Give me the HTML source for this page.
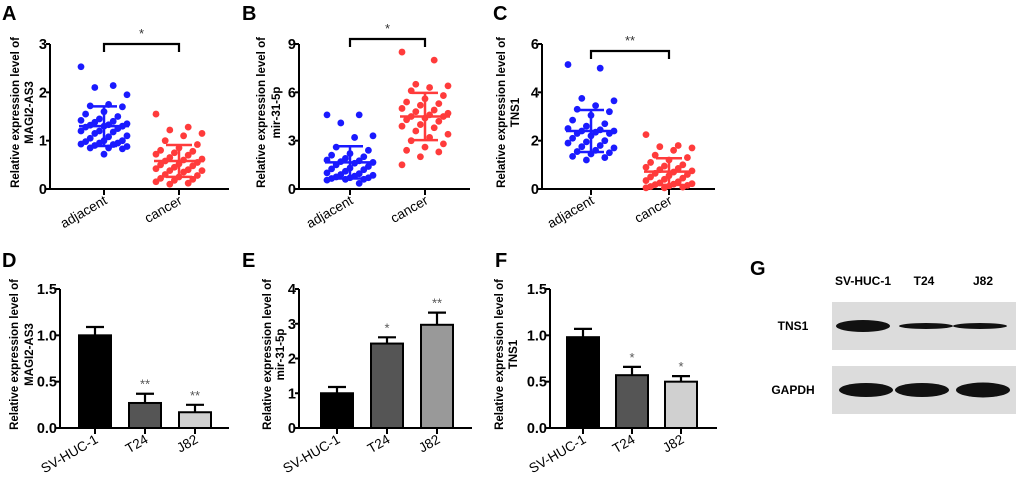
<!DOCTYPE html>
<html><head><meta charset="utf-8"><style>
html,body{margin:0;padding:0;background:#fff;}
svg{display:block;font-family:"Liberation Sans",Arial,sans-serif;}
</style></head><body>
<svg id="fig" width="1020" height="485" viewBox="0 0 1020 485"></svg>
<script>
// ---- data ----
const scatterCats = ["adjacent","cancer"];
const aAdj = [2.53,2.14,2.1,1.95,1.75,1.72,1.7,1.6,1.55,1.5,1.45,1.42,1.4,1.38,1.35,1.33,1.32,1.3,1.3,1.28,1.25,1.2,1.2,1.18,1.15,1.1,1.08,1.05,1.0,1.0,0.98,0.95,0.95,0.93,0.92,0.9,0.88,0.85,0.85,0.83,0.72];
const aCan = [1.55,1.28,1.22,1.15,1.1,1.0,0.92,0.85,0.8,0.78,0.75,0.72,0.7,0.65,0.62,0.6,0.58,0.55,0.52,0.5,0.48,0.45,0.42,0.4,0.38,0.38,0.35,0.3,0.28,0.25,0.22,0.2,0.18,0.15,0.12,0.1];
const bAdj = [4.6,4.6,4.1,3.3,3.2,2.6,2.4,2.2,2.1,2.0,1.9,1.8,1.75,1.7,1.65,1.6,1.5,1.4,1.3,1.25,1.2,1.1,1.0,0.95,0.9,0.85,0.8,0.75,0.7,0.7,0.65,0.6,0.6,0.55,0.35];
const bCan = [8.5,8.0,6.5,6.4,6.3,6.1,5.8,5.6,5.4,5.3,5.2,5.0,4.9,4.8,4.7,4.6,4.5,4.5,4.4,4.3,4.2,4.0,3.9,3.8,3.6,3.4,3.2,3.0,2.8,2.6,2.4,2.3,2.0,1.5];
const cAdj = [5.15,5.0,3.75,3.65,3.45,3.3,3.2,3.05,2.85,2.7,2.6,2.5,2.45,2.4,2.4,2.35,2.3,2.3,2.2,2.1,2.0,1.95,1.9,1.8,1.75,1.7,1.6,1.55,1.5,1.45,1.35,1.3,1.2];
const cCan = [2.25,1.8,1.75,1.7,1.6,1.4,1.3,1.2,1.1,1.0,0.95,0.9,0.85,0.8,0.75,0.7,0.65,0.6,0.55,0.5,0.45,0.4,0.35,0.3,0.25,0.22,0.2,0.18,0.15,0.12,0.1,0.08,0.05,0.05];
const aMean=[1.3,0.58], aSD=[0.41,0.33];
const bMean=[1.65,4.5], bSD=[1.0,1.47];
const cMean=[2.4,0.72], cSD=[0.87,0.55];
const aTicks=["0","1","2","3"], bTicks=["0","3","6","9"], cTicks=["0","2","4","6"];
const barCats=["SV-HUC-1","T24","J82"];
const dVals=[1.0,0.27,0.17], dErr=[0.09,0.10,0.08];
const eVals=[1.0,2.43,2.97], eErr=[0.18,0.18,0.35];
const fVals=[0.98,0.57,0.50], fErr=[0.09,0.09,0.06];
const dTicks=["0.0","0.5","1.0","1.5"], eTicks=["0","1","2","3","4"], fTicks=["0.0","0.5","1.0","1.5"];
const dSig=["","**","**"], eSig=["","*","**"], fSig=["","*","*"];

const NS="http://www.w3.org/2000/svg";
const svg=document.getElementById('fig');
function mk(tag,attrs,parent,text){const e=document.createElementNS(NS,tag);for(const k in attrs)e.setAttribute(k,attrs[k]);if(text!==undefined)e.textContent=text;(parent||svg).appendChild(e);return e;}

function axes(g,ax,top,bot,xEnd,ticks,max,title1,title2,letter,lx,ly,t1x,t2x){
  const y=v=>bot-(v/max)*(bot-top);
  const yl=mk('line',{x1:ax,y1:top,x2:ax,y2:bot,stroke:'#000','stroke-width':2},g);
  
  const xl=mk('line',{x1:ax-1,y1:bot,x2:xEnd,y2:bot,stroke:'#000','stroke-width':2},g);
  
  ticks.forEach(t=>{const v=parseFloat(t);const yy=y(v);
    mk('line',{x1:ax-4,y1:yy,x2:ax,y2:yy,stroke:'#000','stroke-width':2},g);
    const tl=mk('text',{x:ax-3,y:yy+5,'text-anchor':'end','font-size':14.5,'font-weight':'bold'},g,t);
    
  });
  const cy=(top+bot)/2-4;
  const tt1=mk('text',{transform:`translate(${t1x},${cy}) rotate(-90)`,'text-anchor':'middle','font-size':11.5,'font-weight':'bold'},g,title1);
  
  const tt2=mk('text',{transform:`translate(${t2x},${cy}) rotate(-90)`,'text-anchor':'middle','font-size':11.5,'font-weight':'bold'},g,title2);
  
  const L=mk('text',{x:lx,y:ly,'font-size':20,'font-weight':'bold'},g,letter);
  
  return y;
}
function xLabel(g,x,yb,t){
  const e=mk('text',{transform:`translate(${x+4},${yb+14}) rotate(-30)`,'text-anchor':'end','font-size':13.5},g,t);
  
  mk('line',{x1:x,y1:yb,x2:x,y2:yb+6,stroke:'#000','stroke-width':2},g);
}
function scatterPanel(name,ax,xs,xEnd,ticks,max,t1,t2,letter,lx,t1x,t2x,series,means,sds,sigY,sig){
  const g=mk('g',{});
  const top=44,bot=189;
  const y=axes(g,ax,top,bot,xEnd,ticks,max,t1,t2,letter,lx,20,t1x,t2x);
  const cols=['#1a1aff','#ff3b3b'];
  series.forEach((vals,si)=>{
    const cx=xs[si];
    vals.forEach((v,i)=>{const off=((i*7)%11-5)*4.6;
      const c=mk('circle',{cx:cx+off,cy:y(v),r:3.4,fill:cols[si]},g);
      });
    const m=means[si],s=sds[si];
    const st={stroke:cols[si],'stroke-width':2.5};
    const ml=mk('line',Object.assign({x1:cx-25,y1:y(m),x2:cx+25,y2:y(m)},st),g);
    
    mk('line',Object.assign({x1:cx,y1:y(m+s),x2:cx,y2:y(Math.max(m-s,0))},st),g);
    mk('line',Object.assign({x1:cx-13,y1:y(m+s),x2:cx+13,y2:y(m+s)},st),g);
    mk('line',Object.assign({x1:cx-13,y1:y(m-s),x2:cx+13,y2:y(m-s)},st),g);
    xLabel(g,cx,bot,scatterCats[si]);
  });
  const sb=mk('path',{d:`M${xs[0]},${sigY+8}V${sigY}H${xs[1]}V${sigY+8}`,fill:'none',stroke:'#000','stroke-width':2.2},g);
  
  const s=mk('text',{x:(xs[0]+xs[1])/2,y:sigY-6,'text-anchor':'middle','font-size':13,fill:'#333'},g,sig);
  
}
function barPanel(name,ax,xs,xEnd,ticks,max,t1,t2,letter,lx,t1x,t2x,vals,errs,fills,sigs){
  const g=mk('g',{});
  const top=289,bot=428;
  const y=axes(g,ax,top,bot,xEnd,ticks,max,t1,t2,letter,lx,267,t1x,t2x);
  vals.forEach((v,i)=>{const cx=xs[i];
    mk('line',{x1:cx,y1:y(v),x2:cx,y2:y(v+errs[i]),stroke:'#000','stroke-width':2.2},g);
    mk('line',{x1:cx-9,y1:y(v+errs[i]),x2:cx+9,y2:y(v+errs[i]),stroke:'#000','stroke-width':2.2},g);
    const b=mk('rect',{x:cx-16,y:y(v),width:32,height:bot-y(v),fill:fills[i],stroke:'#000','stroke-width':2},g);
    
    if(sigs[i]){const s=mk('text',{x:cx,y:y(v+errs[i])-5,'text-anchor':'middle','font-size':13,fill:'#555'},g,sigs[i]);
      }
    xLabel(g,cx,bot,barCats[i]);
  });
}
const T='Relative expression level of';
scatterPanel('panel-a',50,[104,179],229,aTicks,3,T,'MAGI2-AS3','A',2,19,33,[aAdj,aCan],aMean,aSD,44,'*');
scatterPanel('panel-b',299,[350,425],470,bTicks,9,T,'mir-31-5p','B',242,265,280,[bAdj,bCan],bMean,bSD,39,'*');
scatterPanel('panel-c',542,[591,669],715,cTicks,6,T,'TNS1','C',493,505,519,[cAdj,cCan],cMean,cSD,51,'**');
barPanel('panel-d',60,[95,145,195],229,dTicks,1.5,T,'MAGI2-AS3','D',2,18,33,dVals,dErr,['#000','#555','#d0d0d0'],dSig);
barPanel('panel-e',299,[337,387,437],472,eTicks,4,T,'mir-31-5p','E',242,271,284,eVals,eErr,['#000','#555','#999'],eSig);
barPanel('panel-f',550,[583,632,681],717,fTicks,1.5,T,'TNS1','F',495,503,517,fVals,fErr,['#000','#555','#d0d0d0'],fSig);

// ---- western blot ----
const blotLanes=["SV-HUC-1","T24","J82"];
const tnsIntensity=[6,3,3], gapdhIntensity=[7,7,7.5];
const gG=mk('g',{});
const gl=mk('text',{x:750,y:275,'font-size':20,'font-weight':'bold'},gG,'G');
const laneX=[863,924,983];
blotLanes.forEach((l,i)=>{const t=mk('text',{x:laneX[i],y:285,'text-anchor':'middle','font-size':12,'font-weight':'bold'},gG,l);
  });
[['TNS1',302,tnsIntensity,[863,926,980]],['GAPDH',366,gapdhIntensity,[866,922,983]]].forEach(([n,y0,ints,cxs])=>{
  const r=mk('rect',{x:832,y:y0,width:184,height:48,fill:'#dcdcdc'},gG);
  
  const t=mk('text',{x:793,y:y0+28,'text-anchor':'middle','font-size':12,'font-weight':'bold'},gG,n);
  
  ints.forEach((v,i)=>{const e=mk('ellipse',{cx:cxs[i],cy:y0+24,rx:27,ry:v,fill:'#111'},gG);
    });
});
</script>
</body></html>
